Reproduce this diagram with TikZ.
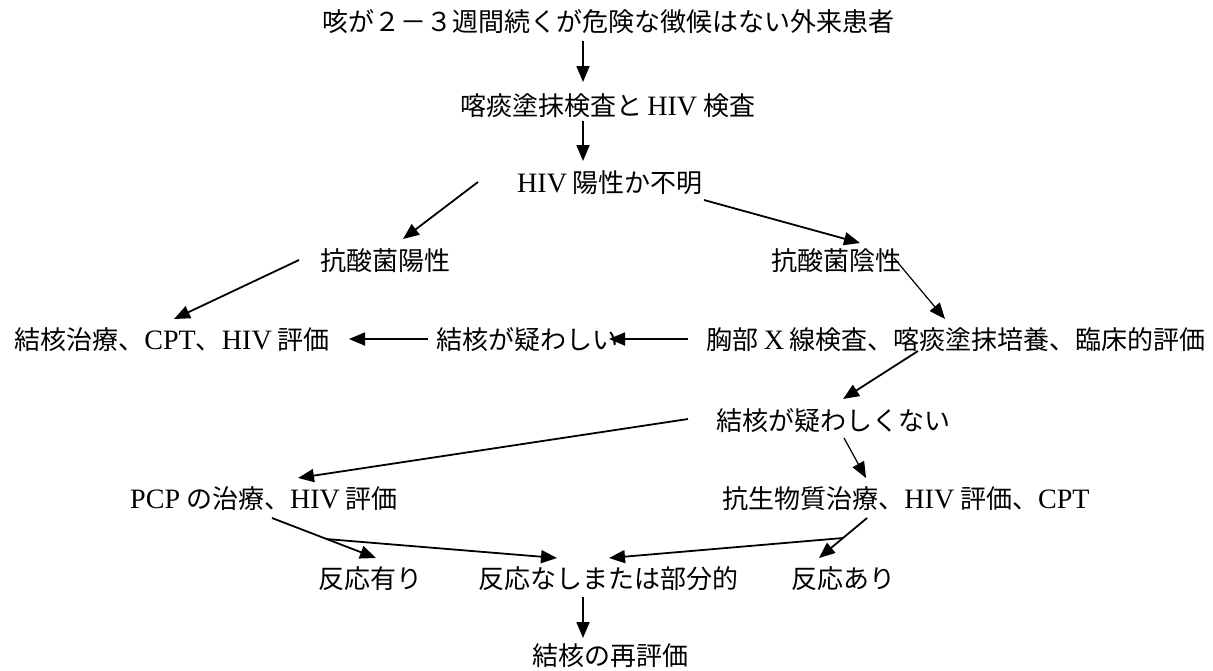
\documentclass[tikz,border=0pt]{standalone}
\usepackage{fontspec}
\setmainfont{Noto Sans CJK JP}
\newfontfamily\latf[Scale=1.08]{Liberation Serif}
\newcommand\lat[1]{{\latf #1}}
\usetikzlibrary{arrows.meta}
\begin{document}
\begin{tikzpicture}[x=1pt,y=-1pt,
  txt/.style={inner sep=0pt,font=\fontsize{26pt}{30pt}\selectfont},
  arr/.style={line width=1.8pt,-{Triangle[length=16pt,width=13pt]}},
  thinarr/.style={line width=1.2pt,-{Triangle[length=16pt,width=13pt]}}]
\useasboundingbox (0,0) rectangle (1213,670);
% nodes
\node[txt] (n1) at (608,22) {咳が２－３週間続くが危険な徴候はない外来患者};
\node[txt] (n2) at (608,106) {喀痰塗抹検査と\,\lat{HIV} 検査};
\node[txt] (n3) at (610,183) {\lat{HIV} 陽性か不明};
\node[txt] (n4) at (385,261) {抗酸菌陽性};
\node[txt] (n5) at (836,261) {抗酸菌陰性};
\node[txt] (n6) at (172,340) {結核治療、\lat{CPT}、\lat{HIV} 評価};
\node[txt] (n7) at (527,340) {結核が疑わしい};
\node[txt] (n8) at (956,340) {胸部 \lat{X} 線検査、喀痰塗抹培養、臨床的評価};
\node[txt] (n9) at (833,421) {結核が疑わしくない};
\node[txt] (n10) at (264,499) {\lat{PCP} の治療、\lat{HIV} 評価};
\node[txt] (n11) at (906,499) {抗生物質治療、\lat{HIV} 評価、\lat{CPT}};
\node[txt] (n12) at (370,579) {反応有り};
\node[txt] (n13) at (608,579) {反応なしまたは部分的};
\node[txt] (n14) at (843,579) {反応あり};
\node[txt] (n15) at (610,656) {結核の再評価};
% connector end points
\coordinate (a1s) at (583,41);  \coordinate (a1e) at (583,82);
\coordinate (a2s) at (583,121); \coordinate (a2e) at (583,161);
\coordinate (a3s) at (478,182); \coordinate (a3e) at (403,239);
\coordinate (a4s) at (704,200); \coordinate (a4e) at (860,243);
\coordinate (a5s) at (299,260); \coordinate (a5e) at (174,319);
\coordinate (a6s) at (894,258); \coordinate (a6e) at (945,319);
\coordinate (a7s) at (688,339); \coordinate (a7e) at (609,339);
\coordinate (a8s) at (428,339); \coordinate (a8e) at (349,339);
\coordinate (a9s) at (918,351); \coordinate (a9e) at (843,399);
\coordinate (a10s) at (688,419); \coordinate (a10e) at (298,478);
\coordinate (a11s) at (844,438); \coordinate (a11e) at (866,478);
\coordinate (a12s) at (272,518); \coordinate (a12e) at (376,558);
\coordinate (b1) at (326,539);  \coordinate (a13e) at (557,558);
\coordinate (a14s) at (867,518); \coordinate (a14e) at (819,558);
\coordinate (b2) at (843,538);  \coordinate (a15e) at (609,558);
\coordinate (a16s) at (583,597); \coordinate (a16e) at (583,638);
% connectors
\draw[arr] (a1s) -- (a1e);
\draw[arr] (a2s) -- (a2e);
\draw[arr] (a3s) -- (a3e);
\draw[arr] (a4s) -- (a4e);
\draw[arr] (a5s) -- (a5e);
\draw[thinarr] (a6s) -- (a6e);
\draw[arr] (a7s) -- (a7e);
\draw[arr] (a8s) -- (a8e);
\draw[arr] (a9s) -- (a9e);
\draw[arr] (a10s) -- (a10e);
\draw[thinarr] (a11s) -- (a11e);
\draw[arr] (a12s) -- (a12e);
\draw[arr] (b1) -- (a13e);
\draw[arr] (a14s) -- (a14e);
\draw[arr] (b2) -- (a15e);
\draw[arr] (a16s) -- (a16e);
\end{tikzpicture}
\end{document}
